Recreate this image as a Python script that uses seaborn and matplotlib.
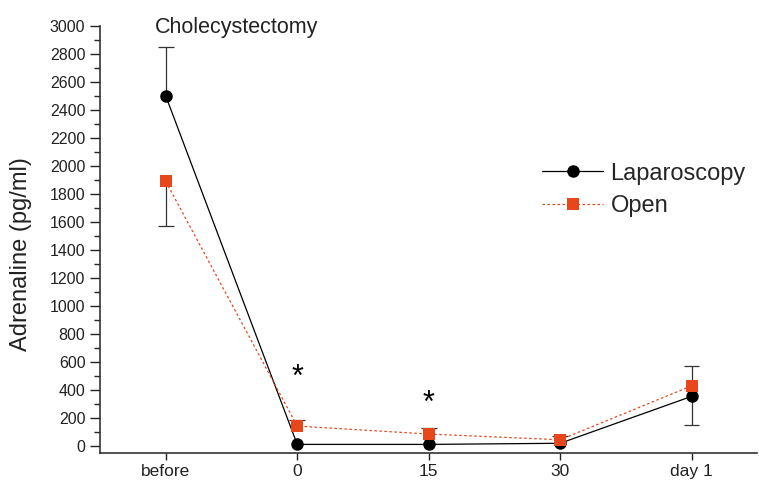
import matplotlib
matplotlib.use("Agg")
import matplotlib.pyplot as plt
import seaborn as sns
import pandas as pd
import numpy as np
from matplotlib.ticker import MultipleLocator

timepoints = ["before", "0", "15", "30", "day 1"]
lap_mean = [2500, 12, 12, 20, 355]
open_mean = [1890, 143, 86, 45, 430]
# error bar ends (only one whisker drawn per point, as in the figure)
err_from = [2500, 143, 86, 45, 430, 1890, 355]
err_to = [2850, 186, 129, 75, 570, 1570, 150]
err_pos = [0, 1, 2, 3, 4, 0, 4]
star_pos = [1, 2]
star_y = [485, 300]

sns.set_style("ticks")
plt.rcParams['font.family'] = ['Liberation Sans', 'DejaVu Sans']

pos = np.arange(len(timepoints))
df = pd.DataFrame({
    "pos": np.concatenate([pos, pos]),
    "value": lap_mean + open_mean,
    "group": ["Laparoscopy"] * len(pos) + ["Open"] * len(pos),
})

fig = plt.figure(figsize=(7.59, 4.82), dpi=100)
ax = fig.add_axes([0.1318, 0.060, 0.866, 0.886])

red = "#e8471c"
ecol = "#333333"
ax.vlines(err_pos, err_from, err_to, color=ecol, linewidth=0.9, zorder=2)
ax.hlines(err_to, np.array(err_pos) - 0.06, np.array(err_pos) + 0.06,
          color=ecol, linewidth=0.9, zorder=2)

sns.lineplot(data=df, x="pos", y="value", hue="group", style="group",
             palette={"Laparoscopy": "black", "Open": red},
             markers={"Laparoscopy": "o", "Open": "s"},
             dashes={"Laparoscopy": "", "Open": (2, 2)},
             markersize=9, markeredgewidth=0, linewidth=0.9, ax=ax, zorder=3)

for x, y in zip(star_pos, star_y):
    ax.text(x, y, "*", ha="center", va="center", fontsize=22, color="black")

ax.set_xlim(-0.5, 4.5)
ax.set_ylim(-50, 3000)
ax.set_xticks(pos)
ax.set_xticklabels(timepoints)
ax.yaxis.set_major_locator(MultipleLocator(200))
ax.yaxis.set_minor_locator(MultipleLocator(100))
ax.tick_params(axis="y", which="major", direction="out", length=7, width=1,
               labelsize=11.5, colors="#222222")
ax.tick_params(axis="y", which="minor", direction="out", length=4, width=1)
ax.tick_params(axis="x", which="major", direction="out", length=5, width=1,
               labelsize=12.5, colors="#222222", pad=3)
ax.set_xlabel("")
ax.set_ylabel("Adrenaline (pg/ml)", fontsize=17, color="#222222")
ax.yaxis.set_label_coords(-0.104, 0.466)
for s in ["top", "right"]:
    ax.spines[s].set_visible(False)
for s in ["left", "bottom"]:
    ax.spines[s].set_linewidth(1.2)
    ax.spines[s].set_color("#333333")

ax.text(0.54, 2990, "Cholecystectomy", ha="center", va="center",
        fontsize=15.5, color="#222222")

leg = ax.legend(loc="upper left", bbox_to_anchor=(0.64, 0.73), frameon=False,
                fontsize=17, handlelength=2.6, handletextpad=0.3, labelspacing=0.45)

fig.savefig("out.png", dpi=100)
